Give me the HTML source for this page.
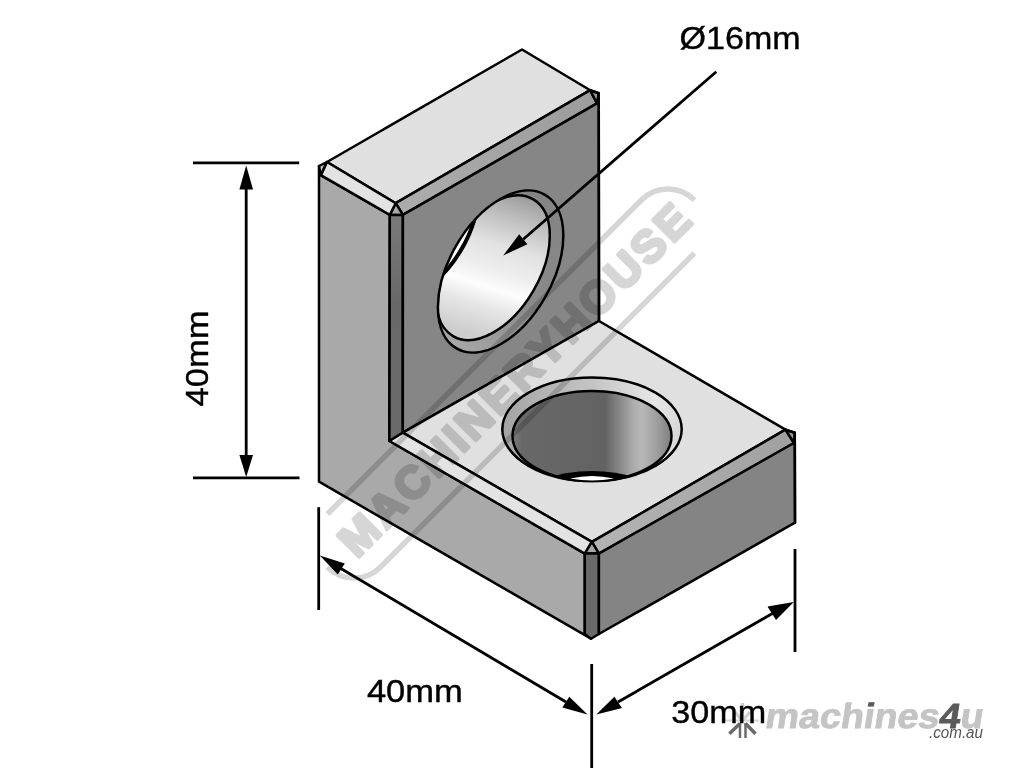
<!DOCTYPE html>
<html><head><meta charset="utf-8">
<style>
html,body{margin:0;padding:0;background:#fff;width:1024px;height:768px;overflow:hidden}
svg{display:block;will-change:transform}
</style></head><body>
<svg width="1024" height="768" viewBox="0 0 1024 768">
<defs>
 <linearGradient id="bore1" gradientUnits="userSpaceOnUse" x1="530" y1="195" x2="484" y2="338">
  <stop offset="0" stop-color="#989898"/>
  <stop offset="0.18" stop-color="#bebebe"/>
  <stop offset="0.38" stop-color="#e2e2e2"/>
  <stop offset="0.55" stop-color="#eeeeee"/>
  <stop offset="0.67" stop-color="#fdfdfd"/>
  <stop offset="0.8" stop-color="#e6e6e6"/>
  <stop offset="1" stop-color="#cdcdcd"/>
 </linearGradient>
 <linearGradient id="bore2" gradientUnits="userSpaceOnUse" x1="512" y1="0" x2="672" y2="0">
  <stop offset="0" stop-color="#7c7c7c"/>
  <stop offset="0.06" stop-color="#686868"/>
  <stop offset="0.58" stop-color="#626262"/>
  <stop offset="0.76" stop-color="#acacac"/>
  <stop offset="0.81" stop-color="#b8b8b8"/>
  <stop offset="0.92" stop-color="#9a9a9a"/>
  <stop offset="1" stop-color="#7e7e7e"/>
 </linearGradient>
 <linearGradient id="ring2" gradientUnits="userSpaceOnUse" x1="502" y1="0" x2="682" y2="0">
  <stop offset="0" stop-color="#a4a4a4"/>
  <stop offset="0.5" stop-color="#c4c4c4"/>
  <stop offset="0.85" stop-color="#e6e6e6"/>
  <stop offset="1" stop-color="#d6d6d6"/>
 </linearGradient>
 <linearGradient id="vch1" gradientUnits="userSpaceOnUse" x1="0" y1="215" x2="0" y2="440">
  <stop offset="0" stop-color="#7a7a7a"/>
  <stop offset="0.4" stop-color="#686868"/>
  <stop offset="1" stop-color="#6a6a6a"/>
 </linearGradient>
 <linearGradient id="ring1" gradientUnits="userSpaceOnUse" x1="560" y1="220" x2="450" y2="340">
  <stop offset="0" stop-color="#858585"/>
  <stop offset="0.5" stop-color="#8a8a8a"/>
  <stop offset="1" stop-color="#a6a6a6"/>
 </linearGradient>
 <linearGradient id="ch1" gradientUnits="userSpaceOnUse" x1="400" y1="0" x2="598" y2="0">
  <stop offset="0" stop-color="#acacac"/>
  <stop offset="1" stop-color="#9c9c9c"/>
 </linearGradient>
 <linearGradient id="ch2" gradientUnits="userSpaceOnUse" x1="590" y1="0" x2="795" y2="0">
  <stop offset="0" stop-color="#b4b4b4"/>
  <stop offset="1" stop-color="#a0a0a0"/>
 </linearGradient>
 <clipPath id="clipOuter"><ellipse cx="500.6" cy="271.5" rx="88.66" ry="51.4" transform="rotate(-60.2 500.6 271.5)"/></clipPath>
 <clipPath id="clipInner1"><ellipse cx="493.2" cy="267.7" rx="79.3" ry="46.3" transform="rotate(-59.6 493.2 267.7)"/></clipPath>
 <clipPath id="clipInner2"><ellipse cx="592" cy="436" rx="79.5" ry="45.1"/></clipPath>
</defs>
<g stroke="#000" stroke-width="2.5" stroke-linejoin="round" stroke-linecap="round">
 <!-- left L face -->
 <polygon fill="#a9a9a9" points="319,166 320.8,175.2 389.8,214.9 389.4,441 584.8,553.6 584.8,634 591,638.7 319,481.7"/>
 <!-- upright top -->
 <polygon fill="#e0e0e0" points="522,49.5 590.2,90.2 395.7,203.2 327,162"/>
 <polygon fill="url(#ch1)" points="590.2,90.2 597,103.4 402.9,214.9 395.7,203.2"/>
 <polygon fill="#a8a8a8" points="395.7,203.2 389.8,214.9 402.9,214.9"/>
 <polygon fill="#e3e3e3" points="327,162 395.7,203.2 389.8,214.9 320.8,175.2"/>
 <polygon fill="#c8c8c8" points="319,166 326.7,162.1 320.8,175.2"/>
 <polygon fill="#999" points="590.2,90.2 598.75,93.3 597,103.4"/>
 <line x1="590.2" y1="90.2" x2="598.75" y2="93.3"/>
 <!-- upright vertical chamfer -->
 <polygon fill="url(#vch1)" points="389.8,214.9 402.9,214.9 402.8,432.7 389.4,441"/>
 <!-- upright front face -->
 <polygon fill="#868686" points="402.9,214.9 597,103.4 598.75,103.4 599,321 402.8,432.7"/>
 <line x1="598.75" y1="93.3" x2="599" y2="321"/>
 <!-- base top -->
 <polygon fill="#e0e0e0" points="402.8,432.7 599,321 785.5,429.7 591.9,541.9"/>
 <polygon fill="#e3e3e3" points="389.4,441 402.8,432.7 591.9,541.9 584.8,553.6"/>
 <polygon fill="url(#ch2)" points="591.9,541.9 785.5,429.7 794,443 598.9,553.6"/>
 <polygon fill="#a8a8a8" points="591.9,541.9 584.8,553.6 598.9,553.6"/>
 <polygon fill="#999" points="785.5,429.7 794.8,432.8 794,443"/>
 <polygon fill="#6a6a6a" points="584.8,553.6 598.9,553.6 598.9,634 591,638.7 584.8,634"/>
 <polygon fill="#848484" points="598.9,553.6 794,443 794.8,443 795,522.7 598.9,634"/>
 <line x1="785.5" y1="429.7" x2="794.8" y2="432.8"/>
 <line x1="794.8" y1="432.8" x2="795" y2="522.7"/>
</g>
<!-- upright hole -->
<g stroke="#000" stroke-width="2.5">
 <ellipse cx="500.6" cy="271.5" rx="88.66" ry="51.4" transform="rotate(-60.2 500.6 271.5)" fill="#939393" stroke="none"/>
 <rect x="400" y="170" width="200" height="200" fill="url(#ring1)" stroke="none" clip-path="url(#clipOuter)"/>
 <g clip-path="url(#clipOuter)">
  <g clip-path="url(#clipInner1)"><rect x="400" y="170" width="200" height="200" fill="url(#bore1)" stroke="none"/></g>
  <ellipse cx="493.2" cy="267.7" rx="79.3" ry="46.3" transform="rotate(-59.6 493.2 267.7)" fill="none"/>
  <ellipse cx="421.3" cy="226.2" rx="79.3" ry="46.3" transform="rotate(-59.6 421.3 226.2)" fill="#fff" stroke-width="4"/>
 </g>
 <ellipse cx="500.6" cy="271.5" rx="88.66" ry="51.4" transform="rotate(-60.2 500.6 271.5)" fill="none"/>
</g>
<!-- base counterbore -->
<g stroke="#000" stroke-width="2.5">
 <ellipse cx="592" cy="429.2" rx="89.7" ry="51.8" fill="url(#ring2)"/>
 <ellipse cx="592" cy="436" rx="79.5" ry="45.1" fill="url(#bore2)"/>
 <g clip-path="url(#clipInner2)" stroke="none">
  <path d="M 540,480 Q 592,462 644,480 L 644,500 L 540,500 Z" fill="#000"/>
  <path d="M 570,478.6 Q 592,473.6 614,478.6 Q 592,482.6 570,478.6 Z" fill="#fff"/>
 </g>
</g>
<!-- watermark -->
<g transform="translate(510.9 383.6) rotate(-45)" opacity="0.16">
 <path d="M -222 -37.5 L 222 -37.5 A 37.5 37.5 0 0 1 259.5 0" stroke="#000" stroke-width="5.5" fill="none"/>
 <path d="M 222 37.5 L -222 37.5 A 37.5 37.5 0 0 1 -259.5 0" stroke="#000" stroke-width="5.5" fill="none"/>
 <text x="-233" y="15.5" font-family="'Liberation Sans', sans-serif" font-weight="bold" font-size="45" textLength="476" lengthAdjust="spacing" fill="#000" stroke="#000" stroke-width="3.5" stroke-linejoin="round">MACHINERYHOUSE</text>
</g>
<!-- dimension lines -->
<g stroke="#000" stroke-width="2.8" fill="none" stroke-linecap="butt">
 <line x1="193" y1="162.8" x2="299.2" y2="162.8"/>
 <line x1="193" y1="477.8" x2="299.5" y2="477.8"/>
 <line x1="246.2" y1="185" x2="246.2" y2="460"/>
 <line x1="318.7" y1="507.2" x2="318.7" y2="610"/>
 <line x1="591.7" y1="664" x2="591.7" y2="768"/>
 <line x1="795" y1="549" x2="795" y2="652"/>
 <line x1="340" y1="568" x2="566" y2="702"/>
 <line x1="618" y1="702" x2="775" y2="612"/>
 <line x1="716.25" y1="71.7" x2="523.3" y2="239.2"/>
</g>
<g fill="#000">
 <polygon points="246.2,165.4 239.4,189.5 253,189.5"/>
 <polygon points="246.2,477 239.4,455 253,455"/>
 <polygon points="319.8,555.6 344.8,563.4 337.8,574.4"/>
 <polygon points="587.5,714.4 562.3,707.4 569.3,696.8"/>
 <polygon points="596.25,714.4 614.4,696.8 622,708"/>
 <polygon points="793.8,601.9 767.5,606.5 776,620"/>
 <polygon points="503.2,255.6 519.2,234.2 527.4,244.2"/>
</g>
<!-- logo icon -->
<g stroke-linecap="butt" fill="none">
 <line x1="725" y1="720.5" x2="759" y2="720.5" stroke="#d6d6d6" stroke-width="2"/>
 <line x1="735" y1="712" x2="742.5" y2="721" stroke="#d0d0d0" stroke-width="3"/>
 <line x1="750" y1="712" x2="742.5" y2="721" stroke="#d0d0d0" stroke-width="3"/>
 <line x1="742.7" y1="703" x2="742.7" y2="722" stroke="#c8c8c8" stroke-width="3"/>
 <line x1="740" y1="723" x2="740" y2="738" stroke="#6a6a6a" stroke-width="2.5"/>
 <line x1="745.5" y1="723" x2="745.5" y2="738" stroke="#6a6a6a" stroke-width="2.5"/>
 <line x1="740" y1="723.6" x2="729.4" y2="733.8" stroke="#6a6a6a" stroke-width="3.5"/>
 <line x1="745.5" y1="723.6" x2="755.5" y2="733.8" stroke="#6a6a6a" stroke-width="3.5"/>
</g>
<g font-family="'Liberation Sans', sans-serif" font-size="32" fill="#000" stroke="#000" stroke-width="0.4">
 <text x="679.6" y="49" textLength="121" lengthAdjust="spacingAndGlyphs">Ø16mm</text>
 <text x="366.9" y="702.2" textLength="96" lengthAdjust="spacingAndGlyphs">40mm</text>
 <text x="671.2" y="723.4" textLength="95" lengthAdjust="spacingAndGlyphs">30mm</text>
 <text transform="translate(207.5 406.5) rotate(-90)" x="0" y="0" textLength="96" lengthAdjust="spacingAndGlyphs">40mm</text>
</g>
<!-- logo -->
<g font-family="'Liberation Sans', sans-serif" font-weight="bold" transform="translate(764 727.5) skewX(-9)">
 <text x="0" y="0" font-size="35" fill="#c4c4c4" stroke="#c4c4c4" stroke-width="0.8" textLength="218" lengthAdjust="spacingAndGlyphs">machines<tspan fill="#5a5a5a" stroke="#5a5a5a">4</tspan>u</text>
</g>
<polygon points="868.6,702.3 874.6,702.3 873.6,706.6 867.6,706.6" fill="#5a5a5a"/>
<text x="929" y="738.4" font-family="'Liberation Sans', sans-serif" font-style="italic" font-size="16" fill="#555" textLength="54" lengthAdjust="spacingAndGlyphs">.com.au</text>
</svg>
</body></html>
